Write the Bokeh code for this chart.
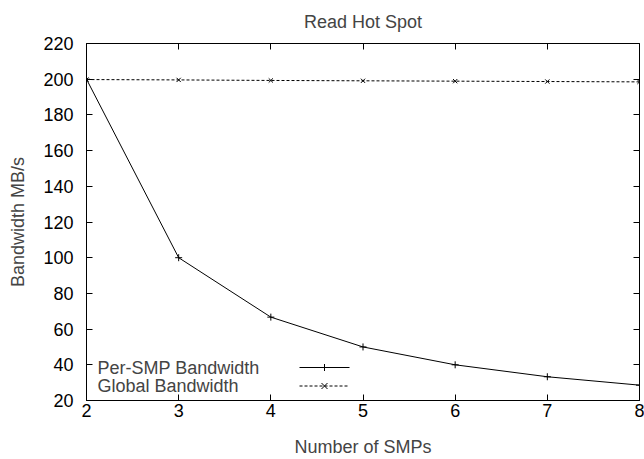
from bokeh.plotting import figure
from bokeh.models import (FixedTicker, LinearAxis, Label, Arrow, CustomLabelingPolicy)
from bokeh.embed import file_html
from bokeh.resources import INLINE

# ---- data ----
smps = [2, 3, 4, 5, 6, 7, 8]
per_smp_bw = [200, 100, 66.7, 50, 40, 33.3, 28.6]
global_bw = [199.8, 199.6, 199.3, 199.1, 198.9, 198.7, 198.5]
x_ticks = [2, 3, 4, 5, 6, 7, 8]
y_ticks = [20, 40, 60, 80, 100, 120, 140, 160, 180, 200, 220]
series_names = ["Per-SMP Bandwidth", "Global Bandwidth"]

FONT = "Liberation Sans"
FS = "18px"

p = figure(width=644, height=459, x_range=(2, 8), y_range=(20, 220),
           output_backend="svg", toolbar_location=None,
           min_border_left=86, min_border_right=3,
           min_border_top=43, min_border_bottom=58)
p.grid.visible = False
p.outline_line_color = "black"
p.outline_line_width = 1
p.background_fill_color = "white"
p.border_fill_color = "white"

p.title.text = "Read Hot Spot"
p.title.align = "center"
p.title.text_font = FONT
p.title.text_font_size = FS
p.title.text_font_style = "normal"
p.title.standoff = 16

for ax in p.xaxis + p.yaxis:
    ax.major_tick_in = 6
    ax.major_tick_out = 0
    ax.minor_tick_line_color = None
    ax.axis_line_color = "black"
    ax.major_tick_line_color = "black"
    ax.major_label_text_font = FONT
    ax.major_label_text_font_size = FS
    ax.major_label_text_color = "black"
    ax.axis_label_text_font = FONT
    ax.axis_label_text_font_size = FS
    ax.axis_label_text_font_style = "normal"
p.xaxis.ticker = FixedTicker(ticks=x_ticks)
p.yaxis.ticker = FixedTicker(ticks=y_ticks)
p.xaxis.major_label_standoff = 3
p.yaxis.major_label_standoff = 13
p.xaxis.axis_label = "Number of SMPs"
p.xaxis.axis_label_standoff = 17
p.yaxis.axis_label = "Bandwidth MB/s"
p.yaxis.axis_label_standoff = 12

# mirrored ticks on top and right (labels hidden)
top = LinearAxis(ticker=FixedTicker(ticks=x_ticks), major_tick_in=6, major_tick_out=0,
                 minor_tick_line_color=None, axis_line_color=None,
                 major_label_text_font_size="1px", major_label_standoff=0,
                 major_label_policy=CustomLabelingPolicy(code="return new Set()"))
right = LinearAxis(ticker=FixedTicker(ticks=y_ticks), major_tick_in=6, major_tick_out=0,
                   minor_tick_line_color=None, axis_line_color=None,
                   major_label_text_font_size="1px", major_label_standoff=0,
                   major_label_policy=CustomLabelingPolicy(code="return new Set()"))
p.add_layout(top, "above")
p.add_layout(right, "right")

# series
p.line(smps, per_smp_bw, line_color="black", line_width=1)
p.scatter(smps, per_smp_bw, marker="cross", size=7, line_color="black", line_width=1)
p.line(smps, global_bw, line_color="black", line_width=1, line_dash="3 2")
p.scatter(smps, global_bw, marker="x", size=6, line_color="black", line_width=1)

# legend (gnuplot style: text left, sample right); screen units from frame bottom-left
ly = [33, 14.5]
lx_text, lx0, lx1, lxm = 11, 213, 263, 238
for i, name in enumerate(series_names):
    p.add_layout(Label(x=lx_text, y=ly[i], x_units="screen", y_units="screen", text=name,
                       text_font=FONT, text_font_size=FS, text_baseline="middle",
                       text_align="left"))
p.add_layout(Arrow(x_start=lx0, y_start=ly[0], x_end=lx1, y_end=ly[0],
                   start_units="screen", end_units="screen", end=None,
                   line_color="black", line_width=1))
p.add_layout(Arrow(x_start=lxm, y_start=ly[0] - 3.5, x_end=lxm, y_end=ly[0] + 3.5,
                   start_units="screen", end_units="screen", end=None,
                   line_color="black", line_width=1))
p.add_layout(Arrow(x_start=lx0, y_start=ly[1], x_end=lx1, y_end=ly[1],
                   start_units="screen", end_units="screen", end=None,
                   line_color="black", line_width=1, line_dash="3 2"))
p.add_layout(Arrow(x_start=lxm - 3, y_start=ly[1] - 3, x_end=lxm + 3, y_end=ly[1] + 3,
                   start_units="screen", end_units="screen", end=None,
                   line_color="black", line_width=1))
p.add_layout(Arrow(x_start=lxm - 3, y_start=ly[1] + 3, x_end=lxm + 3, y_end=ly[1] - 3,
                   start_units="screen", end_units="screen", end=None,
                   line_color="black", line_width=1))

open("out.html", "w").write(file_html(p, INLINE))
